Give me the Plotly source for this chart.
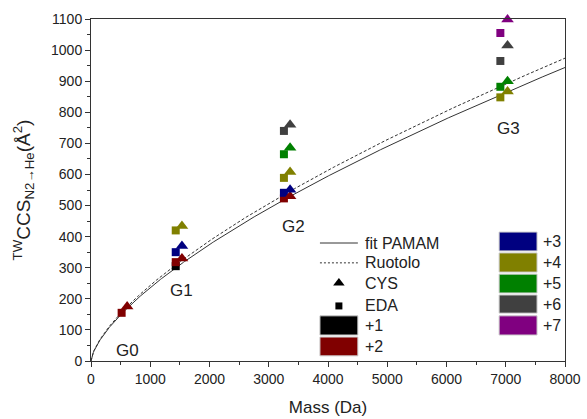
import numpy as np
import plotly.graph_objects as go

# Molecular masses (Da) of the dendrimer generations G0-G3
generations = ["G0", "G1", "G2", "G3"]
mass_eda = [517, 1430, 3256, 6909]
mass_cys = [610, 1535, 3360, 7030]

# Charge states and their colours
charges = ["+1", "+2", "+3", "+4", "+5", "+6", "+7"]
charge_colors = ["#000000", "#800000", "#000080", "#808000", "#008000", "#404040", "#800080"]

# TW CCS values (Å²) per charge state, one entry per generation (None = not observed)
ccs_eda = {
    "+1": [None, 305, None, None],
    "+2": [155, 318, 523, None],
    "+3": [None, 350, 541, None],
    "+4": [None, 420, 589, 848],
    "+5": [None, None, 665, 882],
    "+6": [None, None, 740, 965],
    "+7": [None, None, None, 1055],
}
ccs_cys = {
    "+2": [175, 330, 530, None],
    "+3": [None, 370, 551, None],
    "+4": [None, 434, 608, 867],
    "+5": [None, None, 686, 900],
    "+6": [None, None, 760, 1015],
    "+7": [None, None, None, 1098],
}

# Generation label positions (mass, CCS)
label_mass = [620, 1530, 3420, 7050]
label_ccs = [35, 228, 433, 748]

# Power-law models CCS = A * M^(2/3)
fit_pamam_coef = 2.36
ruotolo_coef = 2.435
curve_exp = 2.0 / 3.0

FONT = "Liberation Sans, Arial, sans-serif"
TEXT = "#222222"

fig = go.Figure()

m = np.linspace(0, 8000, 600)
fig.add_trace(go.Scatter(x=m, y=fit_pamam_coef * m ** curve_exp, mode="lines",
                         line=dict(color="#333333", width=1), showlegend=False,
                         hoverinfo="skip"))
fig.add_trace(go.Scatter(x=m, y=ruotolo_coef * m ** curve_exp, mode="lines",
                         line=dict(color="#333333", width=1, dash="3px,2px"),
                         showlegend=False, hoverinfo="skip"))

color_of = dict(zip(charges, charge_colors))

for ch, vals in ccs_eda.items():
    xs = [mass_eda[i] for i, v in enumerate(vals) if v is not None]
    ys = [v for v in vals if v is not None]
    fig.add_trace(go.Scatter(x=xs, y=ys, mode="markers", cliponaxis=False,
                             marker=dict(symbol="square", size=8, color=color_of[ch],
                                         line=dict(width=0)),
                             showlegend=False))
for ch, vals in ccs_cys.items():
    xs = [mass_cys[i] for i, v in enumerate(vals) if v is not None]
    ys = [v for v in vals if v is not None]
    fig.add_trace(go.Scatter(x=xs, y=ys, mode="markers", cliponaxis=False,
                             marker=dict(symbol="triangle-up", size=11, color=color_of[ch],
                                         line=dict(width=0)),
                             showlegend=False))

for g, lx, ly in zip(generations, label_mass, label_ccs):
    fig.add_annotation(x=lx, y=ly, text=g, showarrow=False, xref="x", yref="y",
                       font=dict(family=FONT, size=17, color=TEXT))

# Hand-built legend (paper coordinates)
shapes = []
annos = []
lx0, lx1, ltx = 0.483, 0.563, 0.574
shapes.append(dict(type="line", xref="paper", yref="paper", x0=lx0, x1=lx1, y0=0.345, y1=0.345,
                   line=dict(color="#333333", width=1)))
shapes.append(dict(type="line", xref="paper", yref="paper", x0=lx0, x1=lx1, y0=0.287, y1=0.287,
                   line=dict(color="#333333", width=1, dash="2px,2px")))
legend_text = [("fit PAMAM", 0.345), ("Ruotolo", 0.287), ("CYS", 0.228), ("EDA", 0.161)]
for t, yy in legend_text:
    annos.append(dict(x=ltx, y=yy, text=t))
fig.add_trace(go.Scatter(x=[0.523], y=[0.228], xaxis="x2", yaxis="y2", mode="markers",
                         marker=dict(symbol="triangle-up", size=10, color="#000000"),
                         showlegend=False, hoverinfo="skip"))
fig.add_trace(go.Scatter(x=[0.523], y=[0.161], xaxis="x2", yaxis="y2", mode="markers",
                         marker=dict(symbol="square", size=7, color="#000000"),
                         showlegend=False, hoverinfo="skip"))

swatches = [
    ("+1", lx0, lx1, ltx, 0.132, 0.076),
    ("+2", lx0, lx1, ltx, 0.070, 0.015),
    ("+3", 0.861, 0.941, 0.949, 0.377, 0.322),
    ("+4", 0.861, 0.941, 0.949, 0.316, 0.260),
    ("+5", 0.861, 0.941, 0.949, 0.254, 0.199),
    ("+6", 0.861, 0.941, 0.949, 0.193, 0.140),
    ("+7", 0.861, 0.941, 0.949, 0.132, 0.076),
]
for ch, x0, x1, tx, y1, y0 in swatches:
    shapes.append(dict(type="rect", xref="paper", yref="paper", x0=x0, x1=x1, y0=y0, y1=y1,
                       fillcolor=color_of[ch], line=dict(color="#cccccc", width=1)))
    annos.append(dict(x=tx, y=(y0 + y1) / 2, text=ch))

for a in annos:
    fig.add_annotation(xref="paper", yref="paper", x=a["x"], y=a["y"], text=a["text"],
                       xanchor="left", yanchor="middle", showarrow=False,
                       font=dict(family=FONT, size=16, color=TEXT))

axis_common = dict(showline=True, linecolor="#333333", linewidth=1, mirror=True,
                   ticks="outside", ticklen=5, tickcolor="#333333", showgrid=False,
                   zeroline=False, automargin=False,
                   tickfont=dict(family=FONT, size=14, color=TEXT))

fig.update_layout(
    width=587, height=419,
    margin=dict(l=91, r=22, t=19, b=58),
    paper_bgcolor="white", plot_bgcolor="white",
    shapes=shapes,
    xaxis=dict(range=[0, 8000], dtick=1000, tick0=0,
               minor=dict(dtick=500, ticks="outside", ticklen=3, tickcolor="#333333"),
               title=dict(text="Mass (Da)", font=dict(family=FONT, size=17, color=TEXT)),
               **axis_common),
    yaxis=dict(range=[0, 1100], dtick=100, tick0=0,
               minor=dict(dtick=50, ticks="outside", ticklen=3, tickcolor="#333333"),
               title=dict(text="<sup>TW</sup>CCS<sub>N2→He</sub>(Å<sup>2</sup>)",
                          font=dict(family=FONT, size=19, color=TEXT)),
               **axis_common),
    xaxis2=dict(range=[0, 1], domain=[0, 1], visible=False, overlaying="x"),
    yaxis2=dict(range=[0, 1], domain=[0, 1], visible=False, overlaying="y"),
    showlegend=False,
)

fig.write_html("out.html")
